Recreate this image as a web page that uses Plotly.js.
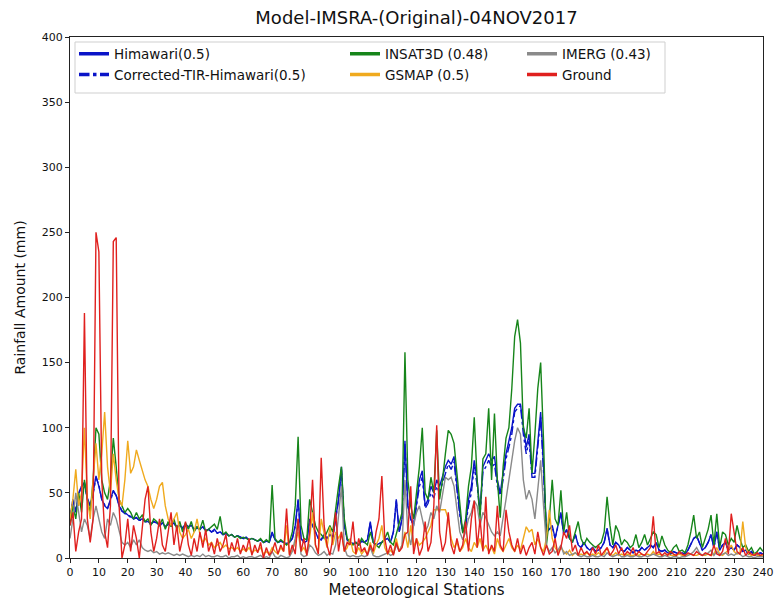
<!DOCTYPE html>
<html>
<head>
<meta charset="utf-8">
<script src="https://cdn.plot.ly/plotly-3.0.1.min.js"></script>
<style>html,body{margin:0;padding:0;background:#fff;}</style>
</head>
<body>
<div id="chart" style="width:774px;height:601px;"></div>
<script>
// Station index is implicit: 0..240
const seriesNames = ['Himawari(0.5)', 'Corrected-TIR-Himawari(0.5)', 'INSAT3D (0.48)', 'GSMAP (0.5)', 'IMERG (0.43)', 'Ground'];
const xTicks = [0,10,20,30,40,50,60,70,80,90,100,110,120,130,140,150,160,170,180,190,200,210,220,230,240];
const yTicks = [0,50,100,150,200,250,300,350,400];

const himawari = [30,45,35,50,55,58,45,40,50,63,
 55,45,40,38,45,52,48,40,36,35,
 33,32,30,31,29,30,28,28,26,28,
 27,25,27,24,26,25,27,24,25,23,
 26,24,25,22,24,22,24,21,22,20,
 22,19,20,18,19,17,18,16,17,16,
 15,16,14,15,14,13,14,12,13,12,
 20,14,12,13,12,11,12,15,25,45,
 15,12,13,30,25,20,15,14,18,15,
 18,16,30,45,70,25,14,12,11,12,
 10,13,12,14,28,12,10,11,12,14,
 15,12,20,45,20,30,90,40,30,25,
 45,60,67,40,45,55,50,60,55,62,
 70,75,72,78,55,35,20,25,45,55,
 75,60,35,70,75,80,75,78,60,50,
 65,80,90,100,115,118,118,100,85,95,
 65,65,90,112,70,20,22,25,15,25,
 35,18,22,15,12,18,10,8,12,8,
 6,8,5,6,8,12,23,10,8,12,
 10,6,5,8,6,4,6,5,8,6,
 8,10,8,12,6,5,6,4,3,5,
 4,3,4,3,6,10,15,17,12,6,
 8,12,18,8,20,6,10,12,6,8,
 6,10,8,5,6,3,5,2,3,4,
 3];

const correctedTIR = [30,44,36,49,55,57,46,40,49,62,
 56,45,41,38,44,51,48,41,36,34,
 33,31,30,31,29,29,28,27,26,28,
 27,25,26,24,26,25,26,24,25,23,
 25,24,25,22,23,22,24,21,22,20,
 21,19,20,18,19,17,18,16,17,16,
 15,15,14,15,14,13,14,12,13,12,
 19,14,12,13,12,11,12,15,24,44,
 15,12,13,29,25,20,15,14,18,15,
 18,16,29,44,68,25,14,12,11,12,
 10,13,12,14,27,12,10,11,12,14,
 15,12,20,44,20,30,88,40,30,25,
 42,55,62,38,42,50,46,55,50,58,
 65,72,68,74,52,33,20,24,40,50,
 70,56,33,66,70,75,70,72,55,48,
 60,76,85,95,112,115,117,95,80,90,
 62,62,85,108,66,20,22,24,15,24,
 34,18,21,15,12,18,10,8,12,8,
 6,8,5,6,8,12,22,10,8,12,
 10,6,5,8,6,4,6,5,8,6,
 8,10,8,12,6,5,6,4,3,5,
 4,3,4,3,6,10,15,17,12,6,
 8,12,18,8,20,6,10,12,6,8,
 6,10,8,5,6,3,5,2,3,4,
 3];

const insat3d = [25,40,30,50,35,60,45,35,60,100,
 95,60,50,45,60,92,70,45,40,35,
 38,35,30,35,30,33,28,30,25,30,
 28,25,30,22,28,24,30,22,28,20,
 27,22,28,20,24,22,29,20,22,24,
 26,22,32,18,20,17,18,16,17,15,
 16,15,14,15,14,13,15,12,14,12,
 56,15,12,14,12,10,12,20,40,93,
 25,15,14,45,35,25,20,18,15,20,
 25,20,40,55,70,30,15,12,10,12,
 10,15,12,10,20,12,10,8,12,15,
 20,12,10,18,25,35,158,60,40,30,
 50,70,100,50,45,62,50,98,45,60,
 80,98,95,88,65,40,19,30,55,70,
 108,60,30,76,80,115,60,111,60,31,
 70,92,100,130,170,183,165,100,92,115,
 65,95,130,150,90,10,30,60,30,25,
 52,20,35,15,12,20,28,15,10,15,
 12,10,8,10,12,20,47,25,10,25,
 20,10,14,12,8,10,18,8,12,18,
 10,15,20,18,8,17,10,6,4,8,
 10,5,6,4,10,20,33,15,20,8,
 15,22,33,10,34,8,20,18,10,15,
 12,25,15,8,10,5,8,3,5,8,
 5];

const gsmap = [30,45,68,40,50,100,45,30,60,88,
 60,80,112,70,50,80,60,45,40,60,
 90,65,70,83,75,68,60,55,45,38,
 45,55,58,40,30,25,30,35,20,15,
 18,22,15,20,30,18,12,15,10,12,
 8,10,12,8,10,7,8,6,8,5,
 7,5,8,4,6,5,8,3,5,3,
 8,5,3,8,5,25,3,6,12,20,
 5,8,3,15,35,10,5,30,20,8,
 24,10,20,15,20,5,8,15,5,3,
 8,3,6,3,12,3,10,15,25,8,
 3,6,3,15,5,10,20,8,25,8,
 15,10,12,15,20,25,37,37,37,37,
 37,30,15,8,12,5,8,15,8,5,
 12,8,15,6,10,5,8,3,15,8,
 5,10,15,8,5,10,6,15,24,20,
 22,10,15,8,5,15,37,15,8,5,
 8,5,3,6,2,4,2,3,2,4,
 2,3,2,4,2,3,8,3,2,4,
 2,3,2,3,2,2,3,2,3,2,
 3,2,5,2,3,2,2,3,2,2,
 2,3,2,2,3,3,2,2,3,2,
 2,3,2,3,8,3,2,4,6,10,
 5,3,4,28,8,3,2,3,2,2,
 2];

const imerg = [15,30,50,35,20,30,25,15,30,40,
 30,20,15,30,25,35,30,20,12,10,
 12,8,14,10,14,8,6,5,6,4,
 5,3,4,3,4,3,2,3,2,3,
 2,1,2,1,2,1,3,1,2,1,
 1,2,1,1,2,0,1,1,2,0,
 1,0,1,1,0,1,2,0,1,0,
 5,1,0,2,1,0,1,5,15,30,
 3,1,2,10,8,4,2,3,5,2,
 4,3,10,30,55,8,2,1,2,1,
 1,2,1,2,8,2,1,1,2,3,
 4,2,3,10,5,10,60,20,10,25,
 35,40,30,20,25,35,30,40,35,50,
 62,60,62,55,35,20,14,20,30,35,
 44,40,25,35,31,25,20,17,20,17,
 30,45,60,75,90,100,95,60,45,52,
 45,30,55,75,40,10,5,8,4,6,
 10,3,5,2,3,4,2,1,2,1,
 1,2,1,1,2,1,4,2,1,2,
 3,1,1,2,1,1,2,1,1,2,
 1,2,3,2,1,1,2,1,0,1,
 1,0,1,1,2,3,5,8,4,2,
 3,4,6,2,5,2,3,4,2,3,
 2,4,3,1,2,1,1,0,1,1,
 1];

const ground = [25,35,5,20,30,188,30,12,30,250,
 235,60,20,8,40,243,246,40,0,10,
 30,5,25,15,0,20,45,55,20,5,
 15,30,10,5,20,35,10,25,5,15,
 28,10,2,15,5,20,8,22,5,12,
 3,15,5,10,18,2,12,5,15,3,
 10,5,15,2,10,4,12,0,8,2,
 5,12,3,10,5,38,2,10,3,30,
 5,15,2,20,60,10,3,77,25,10,
 2,15,35,5,20,5,12,10,28,3,
 15,5,8,2,10,5,20,30,63,15,
 3,10,2,12,5,8,18,20,55,3,
 15,2,8,28,5,12,40,102,20,5,
 12,35,10,3,15,5,10,28,5,30,
 44,8,30,5,47,3,10,5,40,10,
 5,37,20,10,5,15,3,10,2,8,
 12,3,20,8,2,10,3,5,15,2,
 8,20,15,25,5,10,2,8,3,5,
 2,8,3,10,2,5,8,2,5,10,
 3,8,2,5,3,8,2,5,3,2,
 5,8,32,3,5,2,4,2,5,3,
 2,5,3,2,4,3,2,5,3,2,
 4,3,2,10,3,2,5,15,3,34,
 20,5,3,8,2,5,3,2,4,2,
 3];

const seriesData = [himawari, correctedTIR, insat3d, gsmap, imerg, ground];
const colors = ['#0a14c8', '#0a14c8', '#16851a', '#f0aa1e', '#8a8a8a', '#e0201e'];
const dashes = ['solid', 'dashdot', 'solid', 'solid', 'solid', 'solid'];
const legendIds = ['legend', 'legend', 'legend2', 'legend2', 'legend3', 'legend3'];

const traces = [];
seriesData.forEach((ys, i) => {
  traces.push({
    type: 'scatter', mode: 'lines', y: ys, x0: 0, dx: 1,
    name: seriesNames[i], showlegend: false,
    line: {color: colors[i], width: 1.4, dash: dashes[i]},
    hoverinfo: 'skip'
  });
});
// legend-only entries (thicker sample lines as in the reference legend)
seriesNames.forEach((nm, i) => {
  traces.push({
    type: 'scatter', mode: 'lines', x: [null], y: [null],
    name: nm, showlegend: true, legend: legendIds[i],
    line: {color: colors[i], width: 3.5, dash: dashes[i]}
  });
});

const L = 70, R = 11, T = 37, B = 43;
const W = 774 - L - R, H = 601 - T - B;
const font = {family: 'DejaVu Sans, Arial, sans-serif', color: '#111'};
const legendBase = {orientation: 'v', y: 0.997, yanchor: 'top', xanchor: 'left',
  bgcolor: 'rgba(0,0,0,0)', borderwidth: 0, tracegroupgap: 0,
  font: {size: 13.5, color: '#111'}};
const layout = {
  width: 774, height: 601,
  margin: {l: L, r: R, t: T, b: B},
  paper_bgcolor: '#ffffff', plot_bgcolor: '#ffffff',
  font: font,
  title: {text: 'Model-IMSRA-(Original)-04NOV2017', x: 0.5, xref: 'paper',
          y: 1 - 18/601, yref: 'container', yanchor: 'middle',
          font: {family: font.family, size: 18, color: '#111'}},
  xaxis: {range: [0, 240], tickvals: xTicks, ticktext: xTicks.map(String),
          ticks: 'outside', ticklen: 4, tickcolor: '#222', showline: true, mirror: true,
          linecolor: '#222', linewidth: 1, showgrid: false, zeroline: false,
          tickfont: {size: 11}, title: {text: 'Meteorological Stations', font: {size: 15}, standoff: 6}},
  yaxis: {range: [0, 400], tickvals: yTicks, ticktext: yTicks.map(String),
          ticks: 'outside', ticklen: 4, tickcolor: '#222', showline: true, mirror: true,
          linecolor: '#222', linewidth: 1, showgrid: false, zeroline: false,
          tickfont: {size: 11}, title: {text: 'Rainfall Amount (mm)', font: {size: 14}, standoff: 12}},
  legend:  Object.assign({}, legendBase, {x: (74 - L) / W}),
  legend2: Object.assign({}, legendBase, {x: (345 - L) / W}),
  legend3: Object.assign({}, legendBase, {x: (522 - L) / W}),
  shapes: [{type: 'rect', xref: 'paper', yref: 'paper', layer: 'above',
            x0: (75 - L) / W, x1: (665 - L) / W,
            y0: (558 - 93) / H, y1: (558 - 42) / H,
            fillcolor: 'rgba(255,255,255,0.85)', line: {color: '#cfcfcf', width: 1}}],
  showlegend: true
};

Plotly.newPlot('chart', traces, layout, {displayModeBar: false, staticPlot: true});
</script>
</body>
</html>
